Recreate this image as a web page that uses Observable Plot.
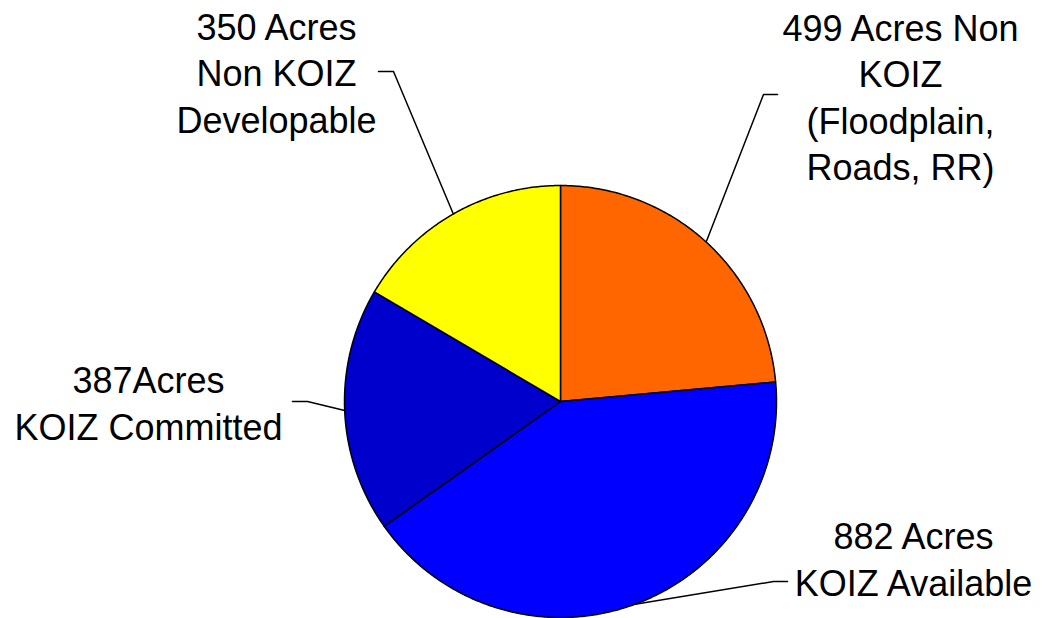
<!DOCTYPE html>
<html>
<head>
<meta charset="utf-8">
<script src="https://cdn.jsdelivr.net/npm/d3@7"></script>
<script src="https://cdn.jsdelivr.net/npm/@observablehq/plot@0.6"></script>
<style>
  html, body { margin: 0; padding: 0; background: #ffffff; }
  #chart { width: 1044px; height: 618px; }
</style>
</head>
<body>
<div id="chart"></div>
<script>
// ---- Data ----
const categories = ["Non KOIZ (Floodplain, Roads, RR)", "KOIZ Available", "KOIZ Committed", "Non KOIZ Developable"];
const acres = [499, 882, 387, 350];
const labels = [
  "499 Acres Non\nKOIZ\n(Floodplain,\nRoads, RR)",
  "882 Acres\nKOIZ Available",
  "387Acres\nKOIZ Committed",
  "350 Acres\nNon KOIZ\nDevelopable"
];
const colors = ["#FF6600", "#0000FF", "#0000CC", "#FFFF00"];

// ---- Layout (pixels) ----
const W = 1044, H = 618;
const cx = 560, cy = 401, R = 216;
const labelLayout = [
  {tx: 900, ty: 95,  elbow: [763, 94],  end: [777, 94]},
  {tx: 913, ty: 557, elbow: [773, 581], end: [787, 581]},
  {tx: 148, ty: 401, elbow: [307, 401], end: [292, 401]},
  {tx: 276, ty: 71,  elbow: [393, 71],  end: [378, 71]}
];

const pie = d3.pie().sort(null).value(d => d)(acres);

// slice outlines from pie angles (0 = 12 o'clock, clockwise)
function pt(a, r = R) { return [cx + r * Math.sin(a), cy - r * Math.cos(a)]; }
const slices = pie.map((p, i) => {
  const pts = [[cx, cy]];
  const n = Math.max(2, Math.ceil((p.endAngle - p.startAngle) / (Math.PI / 360)));
  for (let k = 0; k <= n; k++) pts.push(pt(p.startAngle + (p.endAngle - p.startAngle) * k / n));
  pts.push([cx, cy]);
  return pts.map(([x, y]) => ({x, y, i}));
});

const leaders = pie.map((p, i) => {
  const mid = (p.startAngle + p.endAngle) / 2;
  const s = pt(mid);
  const L = labelLayout[i];
  return [s, L.elbow, L.end].map(([x, y]) => ({x, y, i}));
});

const textData = labels.map((t, i) => ({text: t, x: labelLayout[i].tx, y: labelLayout[i].ty}));

const font = "Arial, 'Liberation Sans', sans-serif";
const chart = Plot.plot({
  width: W,
  height: H,
  margin: 0,
  x: {domain: [0, W], range: [0, W], axis: null},
  y: {domain: [0, H], range: [0, H], axis: null},
  style: {background: "#ffffff", fontFamily: font},
  marks: [
    ...slices.map((s, i) => Plot.line(s, {x: "x", y: "y", fill: colors[i], stroke: "#000000", strokeWidth: 1.5, strokeLinejoin: "round", curve: "linear"})),
    ...leaders.map(l => Plot.line(l, {x: "x", y: "y", stroke: "#000000", strokeWidth: 1.5, curve: "linear"})),
    Plot.text(textData, {
      x: "x", y: "y", text: "text",
      fontSize: 36, lineHeight: 1.29, lineAnchor: "middle", textAnchor: "middle",
      fill: "#000000", fontFamily: font
    })
  ]
});
document.getElementById("chart").appendChild(chart);
</script>
</body>
</html>
